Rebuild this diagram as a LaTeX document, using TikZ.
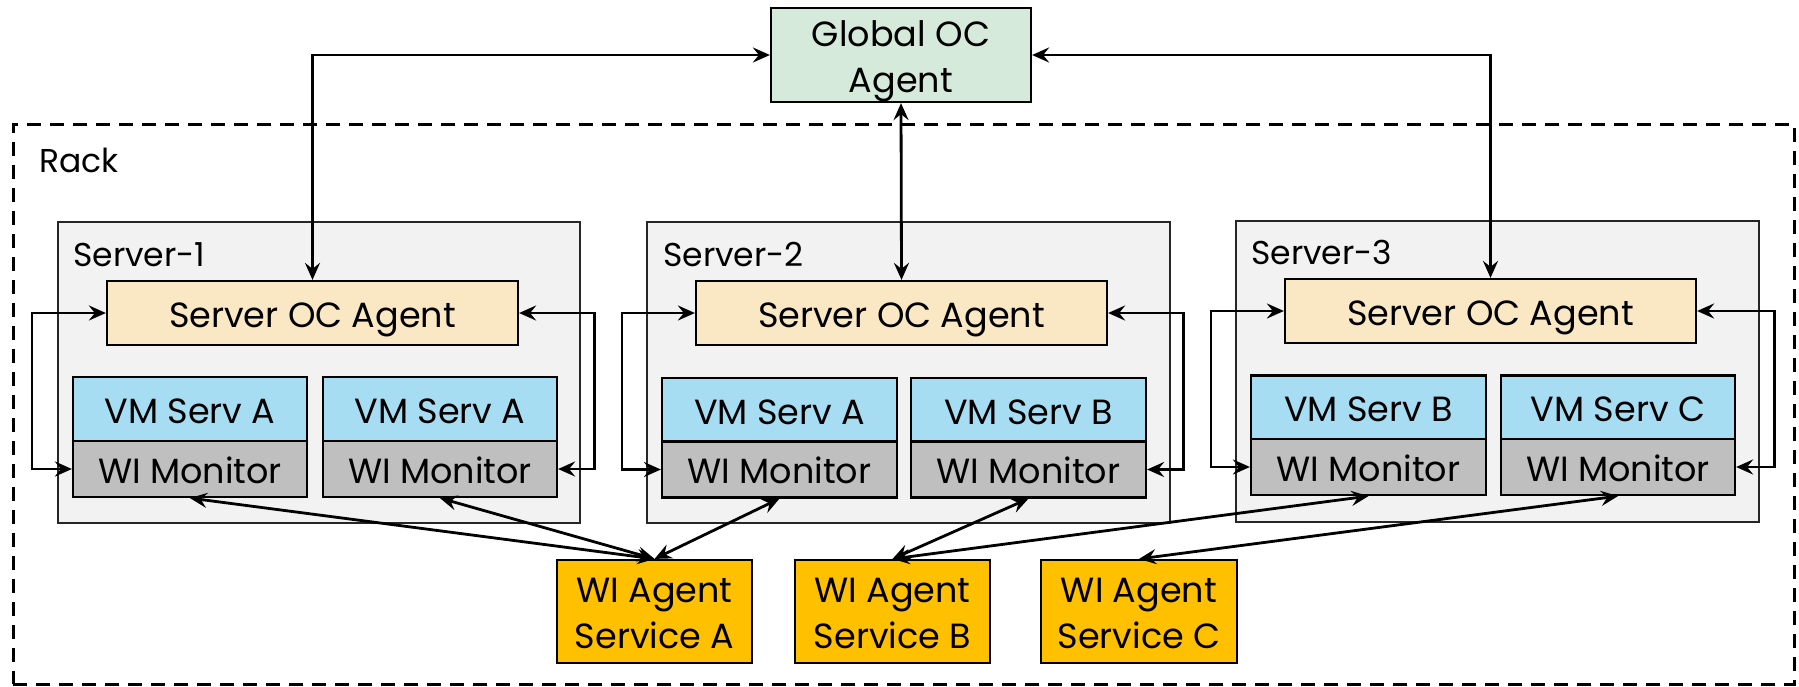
\documentclass[tikz,border=0pt]{standalone}
\usepackage{fontspec}
\setmainfont{Poppins}
\usetikzlibrary{arrows.meta}
\definecolor{globalfill}{RGB}{213,234,218}
\definecolor{serverfill}{RGB}{242,242,242}
\definecolor{ocfill}{RGB}{250,232,197}
\definecolor{vmfill}{RGB}{166,221,243}
\definecolor{monfill}{RGB}{191,191,191}
\definecolor{agentfill}{RGB}{255,192,0}
\newcommand{\twolines}[3]{\raisebox{#1}[0pt][0pt]{\begin{tabular}{@{}c@{}}#2\\[3pt]#3\end{tabular}}}
\tikzset{
  box/.style={draw=black, line width=2.2pt, inner sep=0pt, align=center,
    font=\fontsize{35}{43}\selectfont},
  onel/.style={text height=28pt, text depth=0pt},
  rackbox/.style={draw=black, line width=3pt, dash pattern=on 14pt off 9pt, inner sep=0pt},
  serverbox/.style={draw=black!85, fill=serverfill, line width=2.2pt, inner sep=0pt},
  ocbox/.style={box, onel, fill=ocfill, minimum width=411pt, minimum height=64pt},
  vmbox/.style={box, onel, fill=vmfill, minimum height=64pt},
  monbox/.style={box, onel, fill=monfill, minimum height=56pt},
  agentbox/.style={box, fill=agentfill, minimum width=195pt, minimum height=103pt},
  lbl/.style={anchor=base west, inner sep=0pt, font=\fontsize{33}{40}\selectfont},
  conn/.style={line width=2.8pt, {Stealth[length=17pt,width=15pt,inset=6pt]}-{Stealth[length=17pt,width=15pt,inset=6pt]}}
}
\begin{document}
\begin{tikzpicture}[x=1pt,y=-1pt]
\useasboundingbox (0,0) rectangle (1799,686);
% rack
\node[rackbox, minimum width=1781pt, minimum height=560pt] (rack) at (903.5,404) {};
\node[lbl] (racklbl) at (39,172) {Rack};
% global
\node[box, fill=globalfill, minimum width=260pt, minimum height=94pt] (global) at (901,55) {\twolines{-12pt}{Global OC}{Agent}};
% servers
\node[serverbox, minimum width=522pt, minimum height=301pt] (s1) at (319,372.5) {};
\node[serverbox, minimum width=523pt, minimum height=301pt] (s2) at (908.5,372.5) {};
\node[serverbox, minimum width=523pt, minimum height=301pt] (s3) at (1497.5,371.5) {};
\node[lbl] (s1lbl) at (73,266) {Server-1};
\node[lbl] (s2lbl) at (663,266) {Server-2};
\node[lbl] (s3lbl) at (1251,264) {Server-3};
% OC agents
\node[ocbox] (oc1) at (312.5,313) {Server OC Agent};
\node[ocbox] (oc2) at (901.5,313) {Server OC Agent};
\node[ocbox] (oc3) at (1490.5,311) {Server OC Agent};
% VMs and monitors
\node[vmbox, minimum width=234pt] (vm1a) at (190,409) {VM Serv A};
\node[monbox, minimum width=234pt] (mon1a) at (190,469) {WI Monitor};
\node[vmbox, minimum width=234pt] (vm1b) at (440,409) {VM Serv A};
\node[monbox, minimum width=234pt] (mon1b) at (440,469) {WI Monitor};
\node[vmbox, minimum width=235pt] (vm2a) at (779.5,410) {VM Serv A};
\node[monbox, minimum width=235pt] (mon2a) at (779.5,469.5) {WI Monitor};
\node[vmbox, minimum width=235pt] (vm2b) at (1028.5,410) {VM Serv B};
\node[monbox, minimum width=235pt] (mon2b) at (1028.5,469.5) {WI Monitor};
\node[vmbox, minimum width=235pt] (vm3b) at (1368.5,407.5) {VM Serv B};
\node[monbox, minimum width=235pt] (mon3b) at (1368.5,467) {WI Monitor};
\node[vmbox, minimum width=234pt] (vm3c) at (1618,407.5) {VM Serv C};
\node[monbox, minimum width=234pt] (mon3c) at (1618,467) {WI Monitor};
% WI agents
\node[agentbox] (aga) at (654.5,611.5) {\twolines{-12pt}{WI Agent}{Service A}};
\node[agentbox] (agb) at (892.5,611.5) {\twolines{-12pt}{WI Agent}{Service B}};
\node[agentbox, minimum width=196pt] (agc) at (1139,611.5) {\twolines{-12pt}{WI Agent}{Service C}};
% global connectors
\draw[conn] (oc1.north) |- (global.west);
\draw[conn] (oc3.north) |- (global.east);
\draw[conn] (global.south) -- (oc2.north);
% loops
\draw[conn] (oc1.west) -- ++(-74,0) |- (mon1a.west);
\draw[conn] (oc1.east) -- ++(75,0) |- (mon1b.east);
\draw[conn] (oc2.west) -- ++(-73,0) |- (mon2a.west);
\draw[conn] (oc2.east) -- ++(75,0) |- (mon2b.east);
\draw[conn] (oc3.west) -- ++(-73,0) |- (mon3b.west);
\draw[conn] (oc3.east) -- ++(77,0) |- (mon3c.east);
% monitor to agent
\draw[conn] (mon1a.south) -- (aga.north);
\draw[conn] (mon1b.south) -- (aga.north);
\draw[conn] (mon2a.south) -- (aga.north);
\draw[conn] (mon2b.south) -- (agb.north);
\draw[conn] (mon3b.south) -- (agb.north);
\draw[conn] (mon3c.south) -- (agc.north);
\end{tikzpicture}
\end{document}
